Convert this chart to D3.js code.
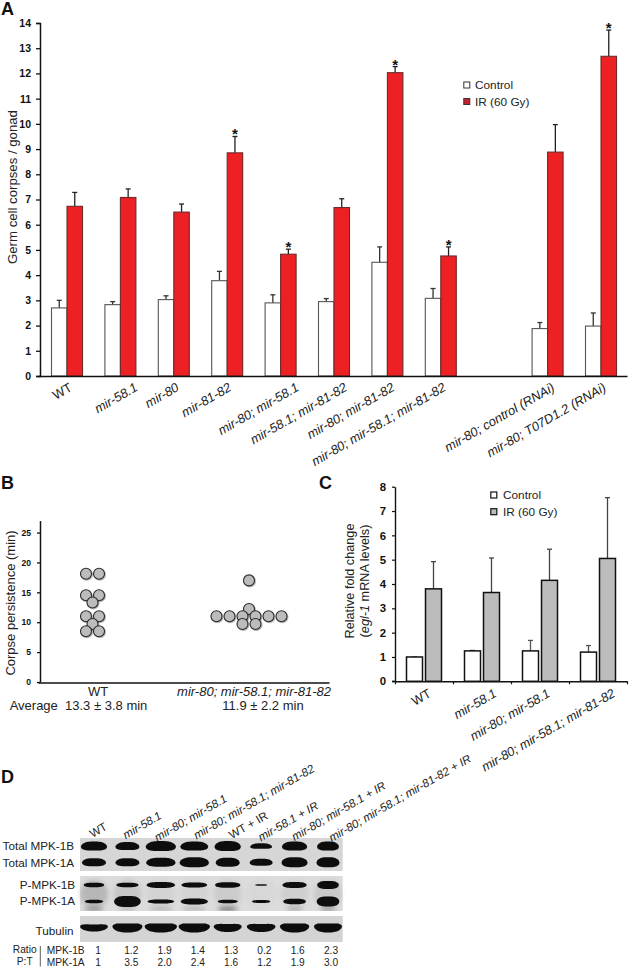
<!DOCTYPE html>
<html><head><meta charset="utf-8">
<script src="https://cdn.jsdelivr.net/npm/d3@7/dist/d3.min.js"></script>
<style>html,body{margin:0;padding:0;background:#fff}svg{display:block;font-family:"Liberation Sans",Arial,sans-serif}text{white-space:pre}</style>
</head><body><div id="c"></div>
<script>
// Panel A
const aCategories = ["WT","mir-58.1","mir-80","mir-81-82","mir-80; mir-58.1","mir-58.1; mir-81-82","mir-80; mir-81-82","mir-80; mir-58.1; mir-81-82","","mir-80; control (RNAi)","mir-80; T07D1.2 (RNAi)"];
const aControl    = [2.70,2.83,3.03,3.78,2.90,2.95,4.51,3.08,null,1.88,1.98];
const aControlTop = [3.00,2.95,3.18,4.15,3.22,3.07,5.12,3.47,null,2.12,2.50];
const aIR         = [6.73,7.08,6.50,8.85,4.83,6.68,12.03,4.76,null,8.88,12.68];
const aIRTop      = [7.28,7.42,6.82,9.50,5.03,7.03,12.27,5.12,null,9.97,13.72];
const aStars      = [0,0,0,1,1,0,1,1,0,0,1];
const aLabelShift = [6,18,6,5,19,14,8,6,0,8,6];
const legendA = ["Control","IR (60 Gy)"];
// Panel B
const bGroups = ["WT","mir-80; mir-58.1; mir-81-82"];
const bWTCol  = [-1,1,-1,1,0,-1,1,0,-1,1];
const bWTMin  = [18.1,18.1,14.5,14.5,13.3,11,11,9.7,8.5,8.5];
const bMutCol = [0,0,-5,-3,-1,1,3,5,-1,1];
const bMutMin = [17,12.2,11,11,11,11,11,11,9.7,9.7];
// Panel C
const cCategories = ["WT","mir-58.1","mir-80; mir-58.1","mir-80; mir-58.1; mir-81-82"];
const cControl    = [1,1.25,1.25,1.2];
const cControlTop = [1,1.27,1.68,1.47];
const cIR         = [3.8,3.65,4.15,5.05];
const cIRTop      = [4.92,5.07,5.43,7.55];
// Panel D
const dLanes = ["WT","mir-58.1","mir-80; mir-58.1","mir-80; mir-58.1; mir-81-82","WT + IR","mir-58.1 + IR","mir-80; mir-58.1 + IR","mir-80; mir-58.1; mir-81-82 + IR"];
const dRows  = ["Total MPK-1B","Total MPK-1A","P-MPK-1B","P-MPK-1A","Tubulin"];
const ratioB = ["1","1.2","1.9","1.4","1.3","0.2","1.6","2.3"];
const ratioA = ["1","3.5","2.0","2.4","1.6","1.2","1.9","3.0"];
// relative band breadth and thickness per lane, read from the blots
const t1bBreadth=[.79,.72,.91,.84,.79,.66,.76,.66], t1bThick=[9,8,10,9,10,5.5,9,9];
const t1aBreadth=[.72,.72,.88,.88,.72,.69,.78,.69], t1aThick=[8,8,9,10,9,7,10,10];
const p1bBreadth=[.62,.67,.86,.77,.76,.36,.73,.65], p1bThick=[4.5,4.5,6,5,5.5,1.6,6,8];
const p1aBreadth=[.55,.80,.80,.82,.60,.55,.68,.68], p1aThick=[3.5,11,4,6,3.5,3,5.5,10];
const tubBreadth=[.84,.90,.97,.94,.84,.86,.88,.84], tubThick=[7,9,9,9,8,8,9,9];
const smearBreadth=[.6,.5,.7,.7,.6,0,.5,.5], smearOpacity=[.28,.12,.14,.14,.4,0,.18,.25];
const hazeOpacity=[.28,.16,.07,.07,.12,.04,.10,.14];

const W=629,H=968;
const svg=d3.select("#c").append("svg").attr("width",W).attr("height",H).attr("viewBox",[0,0,W,H]);
const defs=svg.append("defs");
defs.append("filter").attr("id","soft").attr("x","-20%").attr("y","-40%").attr("width","140%").attr("height","180%")
  .append("feGaussianBlur").attr("stdDeviation",0.55);
defs.append("filter").attr("id","haze").attr("x","-40%").attr("y","-80%").attr("width","180%").attr("height","260%")
  .append("feGaussianBlur").attr("stdDeviation",2.2);
const sh=defs.append("filter").attr("id","shadow").attr("x","-30%").attr("y","-30%").attr("width","170%").attr("height","170%");
sh.append("feDropShadow").attr("dx",0.8).attr("dy",0.8).attr("stdDeviation",0.7).attr("flood-color","#000").attr("flood-opacity",0.35);

const ink="#111";
function panelLetter(t,x,y){svg.append("text").attr("x",x).attr("y",y).attr("font-size",18).attr("font-weight",700).attr("fill","#111").text(t);}
function styleAxis(g,sw,fs){
  g.selectAll("path.domain").attr("stroke",ink).attr("stroke-width",sw);
  g.selectAll(".tick line").attr("stroke",ink).attr("stroke-width",sw*0.85);
  g.selectAll(".tick text").attr("fill",ink).attr("font-size",fs).attr("font-weight",700).attr("font-family",'"Liberation Sans",Arial,sans-serif');
}
function rotLabel(x,y,txt,fs,italic,ang){
  svg.append("text").attr("transform",`translate(${x},${y}) rotate(${ang||-30})`).attr("text-anchor","end")
    .attr("font-size",fs).attr("font-style",italic?"italic":"normal").attr("fill","#222").text(txt);
}
function vtitle(x,y,fs){return svg.append("text").attr("transform",`translate(${x},${y}) rotate(-90)`).attr("text-anchor","middle").attr("font-size",fs).attr("fill","#222");}
function errBars(sel,xf,yTop,yBase,color){
  sel.append("line").attr("x1",xf).attr("x2",xf).attr("y1",yBase).attr("y2",yTop).attr("stroke",color).attr("stroke-width",1.3);
  sel.append("line").attr("x1",d=>xf(d)-2.5).attr("x2",d=>xf(d)+2.5).attr("y1",yTop).attr("y2",yTop).attr("stroke",color).attr("stroke-width",1.3);
}

/* ---------- A ---------- */
panelLetter("A",1,15);
const ay=d3.scaleLinear().domain([0,14]).range([376,23]);
const ax=d3.scaleBand().domain(d3.range(aCategories.length)).range([40.3,627.7]).paddingInner(0).paddingOuter(0);
const barA=15.5;
const idxA=d3.range(aCategories.length).filter(i=>aIR[i]!==null);
const gA=svg.append("g");
const ctrlErr=gA.selectAll(null).data(idxA).join("g");
errBars(ctrlErr,i=>ax(i)+ax.bandwidth()/2-barA/2,i=>ay(aControlTop[i]),i=>ay(aControl[i]),"#333");
const irErr=gA.selectAll(null).data(idxA).join("g");
errBars(irErr,i=>ax(i)+ax.bandwidth()/2+barA/2,i=>ay(aIRTop[i]),i=>ay(aIR[i]),"#222");
gA.selectAll(null).data(idxA).join("rect").attr("x",i=>ax(i)+ax.bandwidth()/2-barA).attr("width",barA)
  .attr("y",i=>ay(aControl[i])).attr("height",i=>ay(0)-ay(aControl[i])).attr("fill","#fff").attr("stroke","#555").attr("stroke-width",1.1);
gA.selectAll(null).data(idxA).join("rect").attr("x",i=>ax(i)+ax.bandwidth()/2).attr("width",barA)
  .attr("y",i=>ay(aIR[i])).attr("height",i=>ay(0)-ay(aIR[i])).attr("fill","#ed2024").attr("stroke","#6e2a2a").attr("stroke-width",1.1);
gA.selectAll(null).data(idxA.filter(i=>aStars[i])).join("text").attr("text-anchor","middle")
  .attr("x",i=>ax(i)+ax.bandwidth()/2+barA/2).attr("y",i=>ay(aIRTop[i])+3).attr("font-size",15).attr("font-weight",700).attr("fill","#111").text("*");
const ayG=svg.append("g").attr("transform","translate(40,0)").call(d3.axisLeft(ay).ticks(14).tickSize(4).tickSizeOuter(4).tickPadding(5));
styleAxis(ayG,1.5,10.5);
const axG=svg.append("g").attr("transform","translate(0,376)").call(d3.axisBottom(d3.scaleLinear().domain([0,1]).range([38,627])).tickValues([]).tickSizeOuter(0));
styleAxis(axG,1.5,10);
idxA.forEach(i=>rotLabel(ax(i)+ax.bandwidth()/2+aLabelShift[i],390,aCategories[i],12.9,aCategories[i]!=="WT"));
vtitle(17,187,13.2).text("Germ cell corpses / gonad");
const lgA=d3.scalePoint().domain(legendA).range([85,101.5]);
svg.selectAll(null).data(legendA).join("rect").attr("x",463.8).attr("y",d=>lgA(d)-3).attr("width",6).attr("height",6)
  .attr("fill",(d,i)=>i?"#c8202a":"#fff").attr("stroke","#333").attr("stroke-width",1);
svg.selectAll(null).data(legendA).join("text").attr("x",475).attr("y",d=>lgA(d)+4.2).attr("font-size",11.8).attr("fill","#222").text(d=>d);

/* ---------- B ---------- */
panelLetter("B",1,489);
const by=d3.scaleLinear().domain([0,27]).range([682,520.6]);
const bCenter=d3.scalePoint().domain(bGroups).range([92.5,249]);
const bCol=d3.scaleLinear().domain([-1,1]).range([-6.5,6.5]);
function dots(colArr,minArr,grp){
  svg.append("g").selectAll("circle").data(minArr).join("circle")
    .attr("cx",(d,i)=>bCenter(grp)+bCol(colArr[i])).attr("cy",d=>by(d)).attr("r",5.5)
    .attr("fill","#bcbcbc").attr("stroke","#2b2b2b").attr("stroke-width",1.1).attr("filter","url(#shadow)");
}
dots(bWTCol,bWTMin,bGroups[0]);dots(bMutCol,bMutMin,bGroups[1]);
const byG=svg.append("g").attr("transform","translate(40,0)").call(d3.axisLeft(by).tickValues([0,5,10,15,20,25]).tickSize(3).tickSizeOuter(0).tickPadding(6));
styleAxis(byG,1.5,8.6);
const bxG=svg.append("g").attr("transform","translate(0,682.5)").call(d3.axisBottom(d3.scaleLinear().domain([0,1]).range([38,329])).tickValues([]).tickSizeOuter(0));
styleAxis(bxG,1.5,10);
vtitle(15,603,13).text("Corpse persistence (min)");
const tB=(x,y,t,it)=>svg.append("text").attr("x",x).attr("y",y).attr("text-anchor","middle").attr("font-size",13).attr("font-style",it?"italic":"normal").attr("fill","#222").text(t);
tB(98,696,bGroups[0]);tB(254,696,bGroups[1],true);
tB(78.5,710,"Average  13.3 ± 3.8 min");tB(263,710,"11.9 ± 2.2 min");

/* ---------- C ---------- */
panelLetter("C",319,489);
const cy=d3.scaleLinear().domain([0,8]).range([681.3,486.7]);
const cx=d3.scaleLinear().domain([0,4]).range([395,627]);
const barC=16,gapC=3;
const gC=svg.append("g");
const cidx=d3.range(4);
const ce1=gC.selectAll(null).data(cidx).join("g");
errBars(ce1,i=>cx(i+.5)-gapC/2-barC/2,i=>cy(cControlTop[i]),i=>cy(cControl[i]),"#555");
const ce2=gC.selectAll(null).data(cidx).join("g");
errBars(ce2,i=>cx(i+.5)+gapC/2+barC/2,i=>cy(cIRTop[i]),i=>cy(cIR[i]),"#444");
gC.selectAll(null).data(cidx).join("rect").attr("x",i=>cx(i+.5)-gapC/2-barC).attr("width",barC)
  .attr("y",i=>cy(cControl[i])).attr("height",i=>cy(0)-cy(cControl[i])).attr("fill","#fff").attr("stroke","#111").attr("stroke-width",1.5);
gC.selectAll(null).data(cidx).join("rect").attr("x",i=>cx(i+.5)+gapC/2).attr("width",barC)
  .attr("y",i=>cy(cIR[i])).attr("height",i=>cy(0)-cy(cIR[i])).attr("fill","#bcbcbc").attr("stroke","#111").attr("stroke-width",1.5);
const cyG=svg.append("g").attr("transform","translate(395,0)").call(d3.axisLeft(cy).ticks(8).tickSize(3).tickSizeOuter(0).tickPadding(6));
styleAxis(cyG,1.4,11.4);
const cxG=svg.append("g").attr("transform","translate(0,681.3)").call(d3.axisBottom(cx).ticks(4).tickFormat("").tickSize(3).tickSizeOuter(0));
styleAxis(cxG,1.4,10);
svg.append("line").attr("x1",392).attr("x2",395).attr("y1",681.3).attr("y2",681.3).attr("stroke",ink).attr("stroke-width",1.4);
cCategories.forEach((c,i)=>rotLabel(cx(i+.5)+[8,15.5,11,18][i],696,c,12.8,i>0));
const ct=vtitle(354,581,12.7);ct.text("Relative fold change");
const ct2=vtitle(369,581,12.7);ct2.append("tspan").text("(");ct2.append("tspan").attr("font-style","italic").text("egl-1");ct2.append("tspan").text(" mRNA levels)");
const lgC=d3.scalePoint().domain(legendA).range([495,511.7]);
svg.selectAll(null).data(legendA).join("rect").attr("x",490.8).attr("y",d=>lgC(d)-3).attr("width",6).attr("height",6)
  .attr("fill",(d,i)=>i?"#bcbcbc":"#fff").attr("stroke","#111").attr("stroke-width",1.2);
svg.selectAll(null).data(legendA).join("text").attr("x",503).attr("y",d=>lgC(d)+4).attr("font-size",11.8).attr("fill","#222").text(d=>d);

/* ---------- D ---------- */
panelLetter("D",1,783);
const lane=d3.scalePoint().domain(d3.range(8)).range([94,328]);
const step=lane.step();
const panels=[{y0:838,y1:871,fill:"#d6d6d6"},{y0:876,y1:911,fill:"#dcdcdc"},{y0:916,y1:942,fill:"#d4d4d4"}];
svg.selectAll(null).data(panels).join("rect").attr("x",80).attr("width",262.7).attr("y",d=>d.y0).attr("height",d=>d.y1-d.y0).attr("fill",d=>d.fill);
const ts=d3.range(-1,1.0001,0.05);
const bandPath=(cxv,cyv,w,h,bend)=>d3.area().curve(d3.curveCatmullRom)
  .x(t=>cxv+t*w/2)
  .y0(t=>cyv-bend*t*t-h/2*Math.pow(1-Math.pow(Math.abs(t),3.2),0.55))
  .y1(t=>cyv-bend*t*t+h/2*Math.pow(1-Math.pow(Math.abs(t),3.2),0.55))(ts);
const rows=[
 {y:846,br:t1bBreadth,th:t1bThick,bend:-0.8},
 {y:862.2,br:t1aBreadth,th:t1aThick,bend:-0.5},
 {y:885,br:p1bBreadth,th:p1bThick,bend:0},
 {y:901.5,br:p1aBreadth,th:p1aThick,bend:0},
 {y:928,br:tubBreadth,th:tubThick,bend:1.5}];
// haze around phospho bands
const haze=svg.append("g").attr("filter","url(#haze)");
haze.selectAll(null).data(d3.range(8)).join("ellipse").attr("cx",i=>lane(i)).attr("cy",894).attr("rx",14).attr("ry",14)
  .attr("fill","#555").attr("opacity",i=>hazeOpacity[i]);
haze.selectAll(null).data(d3.range(8)).join("ellipse").attr("cx",i=>lane(i)).attr("cy",909).attr("rx",i=>smearBreadth[i]*step/2).attr("ry",1.8)
  .attr("fill","#222").attr("opacity",i=>smearOpacity[i]*1.6);
const blot=svg.append("g").attr("filter","url(#soft)");
rows.forEach(r=>blot.append("g").selectAll("path").data(d3.range(8)).join("path")
  .attr("d",i=>bandPath(lane(i),r.y,r.br[i]*step,r.th[i],r.bend)).attr("fill","#0b0b0b"));
// clip smear to panel edges
svg.append("rect").attr("x",80).attr("width",262.7).attr("y",911).attr("height",5).attr("fill","#fff");
dRows.forEach((t,i)=>svg.append("text").attr("x",t==="Tubulin"?73.5:(i<2?74:75)).attr("y",[850,866.7,889,905,934.5][i]).attr("text-anchor","end").attr("font-size",11.7).attr("fill","#222").text(t));
const dShift=[14,35,67,121,41,58,92,144], dEnd=[823,812,795,765,812,802,782,755];
dLanes.forEach((t,i)=>rotLabel(lane(i)+dShift[i],dEnd[i]+6,t,11.6,i!==0&&i!==4));
const vals=d3.scalePoint().domain(d3.range(8)).range([98,331]);
const small=(x,y,t,a)=>svg.append("text").attr("x",x).attr("y",y).attr("text-anchor",a||"middle").attr("font-size",10.2).attr("fill","#222").text(t);
small(24.7,953,"Ratio");small(24.7,965,"P:T");
small(46.7,954,"MPK-1B","start");small(46.7,966,"MPK-1A","start");
svg.append("line").attr("x1",40.3).attr("x2",40.3).attr("y1",946).attr("y2",966.5).attr("stroke","#333").attr("stroke-width",0.8);
ratioB.forEach((v,i)=>small(vals(i),954,v));
ratioA.forEach((v,i)=>small(vals(i),966,v));
</script></body></html>
